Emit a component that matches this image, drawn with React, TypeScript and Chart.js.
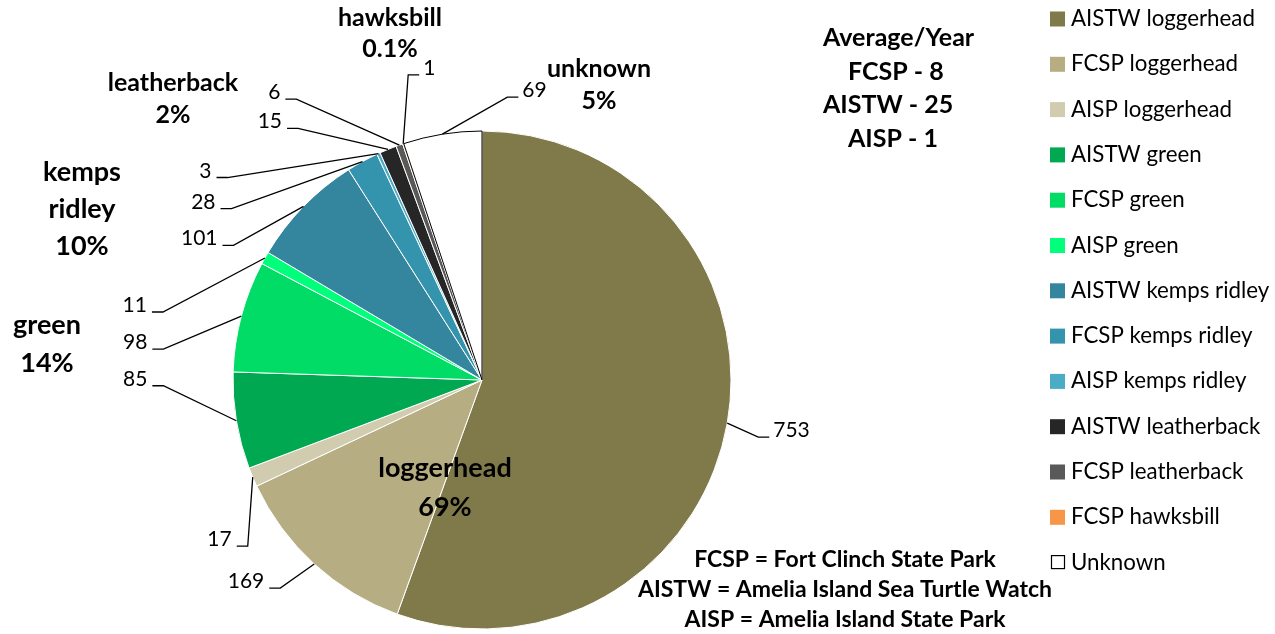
import React, { useEffect, useRef } from "react";
import { Chart, registerables } from "chart.js";

Chart.register(...registerables);

// ---- data ----
const categories = [
  "AISTW loggerhead",
  "FCSP loggerhead",
  "AISP loggerhead",
  "AISTW green",
  "FCSP green",
  "AISP green",
  "AISTW kemps ridley",
  "FCSP kemps ridley",
  "AISP kemps ridley",
  "AISTW leatherback",
  "FCSP leatherback",
  "FCSP hawksbill",
  "Unknown",
];
const counts = [753, 169, 17, 85, 98, 11, 101, 28, 3, 15, 6, 1, 69];

const speciesNames = ["hawksbill", "leatherback", "kemps\nridley", "green", "loggerhead", "unknown"];
const speciesPercents = ["0.1%", "2%", "10%", "14%", "69%", "5%"];

const averageTitle = "Average/Year";
const averageLines = ["FCSP - 8", "AISTW - 25", "AISP - 1"];
const abbreviations = [
  "FCSP = Fort Clinch State Park",
  "AISTW = Amelia Island Sea Turtle Watch",
  "AISP = Amelia Island State Park",
];

// ---- styles ----
const sliceColors = [
  "#807A4B",
  "#B6AE82",
  "#D1CCAF",
  "#00A851",
  "#00DC66",
  "#00FF7A",
  "#33869E",
  "#3494AE",
  "#4BACC6",
  "#262626",
  "#595959",
  "#F79646",
  "#FFFFFF",
];
const sliceBorders = [
  "#FFFFFF", "#FFFFFF", "#FFFFFF", "#FFFFFF", "#FFFFFF", "#FFFFFF", "#FFFFFF",
  "#FFFFFF", "#FFFFFF", "#FFFFFF", "#FFFFFF", "#FFFFFF", "#000000",
];

const FONT = "Lato, 'Open Sans', sans-serif";

// leader-line layout: offset from slice edge to elbow, and side of label
const leaderLayout: { dx: number; dy: number; side: "L" | "R" }[] = [
  { dx: 31, dy: 14, side: "R" },
  { dx: -34, dy: 24, side: "L" },
  { dx: -5, dy: 69, side: "L" },
  { dx: -73, dy: -35, side: "L" },
  { dx: -78, dy: 33, side: "L" },
  { dx: -102, dy: 54, side: "L" },
  { dx: -70, dy: 39, side: "L" },
  { dx: -131, dy: 47, side: "L" },
  { dx: -151, dy: 24, side: "L" },
  { dx: -90, dy: -21, side: "L" },
  { dx: -103, dy: -46, side: "L" },
  { dx: 5, dy: -69, side: "R" },
  { dx: 65, dy: -37, side: "R" },
];

// species label placement (center x, baselines, font size)
const speciesLayout = [
  { x: 390, y: [26, 57], size: 25 },
  { x: 173, y: [91, 123], size: 25 },
  { x: 82, y: [181, 218, 255], size: 27 },
  { x: 47, y: [334, 372], size: 27 },
  { x: 445, y: [477, 516], size: 27 },
  { x: 599, y: [77, 109], size: 25 },
];

const overlayPlugin = {
  id: "overlay",
  afterDraw(chart: any) {
    const ctx: CanvasRenderingContext2D = chart.ctx;
    const meta = chart.getDatasetMeta(0);
    ctx.save();

    // data labels with leader lines
    ctx.font = `21px ${FONT}`;
    ctx.fillStyle = "#000";
    ctx.strokeStyle = "#000";
    ctx.lineWidth = 1.3;
    meta.data.forEach((arc: any, i: number) => {
      const p = arc.getProps(["x", "y", "startAngle", "endAngle", "outerRadius"], true);
      const mid = (p.startAngle + p.endAngle) / 2;
      const ax = p.x + Math.cos(mid) * p.outerRadius;
      const ay = p.y + Math.sin(mid) * p.outerRadius;
      const L = leaderLayout[i];
      const ex = ax + L.dx;
      const ey = ay + L.dy;
      const hx = L.side === "L" ? ex - 11 : ex + 11;
      ctx.beginPath();
      ctx.moveTo(ax, ay);
      ctx.lineTo(ex, ey);
      ctx.lineTo(hx, ey);
      ctx.stroke();
      ctx.textBaseline = "alphabetic";
      ctx.textAlign = L.side === "L" ? "right" : "left";
      const tx = L.side === "L" ? hx - 5 : hx + 4;
      ctx.fillText(String(chart.data.datasets[0].data[i]), tx, ey);
    });

    // species labels
    ctx.textAlign = "center";
    speciesNames.forEach((name, i) => {
      const lines = [...name.split("\n"), speciesPercents[i]];
      const lay = speciesLayout[i];
      ctx.font = `bold ${lay.size}px ${FONT}`;
      lines.forEach((ln, j) => ctx.fillText(ln, lay.x, lay.y[j]));
    });

    // average per year block
    ctx.font = `bold 25px ${FONT}`;
    ctx.textAlign = "left";
    ctx.fillText(averageTitle, 823, 46);
    const avgX = [848, 823, 848];
    const avgY = [80, 113, 147];
    averageLines.forEach((t, i) => ctx.fillText(t, avgX[i], avgY[i]));

    // abbreviations
    ctx.font = `bold 23px ${FONT}`;
    ctx.textAlign = "center";
    const abY = [567, 597, 627];
    abbreviations.forEach((t, i) => ctx.fillText(t, 845, abY[i]));

    // legend
    ctx.font = `22.3px ${FONT}`;
    ctx.textAlign = "left";
    const ds = chart.data.datasets[0];
    chart.data.labels.forEach((lab: string, i: number) => {
      const cy = 18.5 + i * 45.3;
      if (i === categories.length - 1) {
        ctx.fillStyle = "#FFFFFF";
        ctx.fillRect(1051, cy - 7, 14, 14);
        ctx.strokeStyle = "#000";
        ctx.lineWidth = 1.2;
        ctx.strokeRect(1051.5, cy - 6.5, 13, 13);
      } else {
        ctx.fillStyle = ds.backgroundColor[i];
        ctx.fillRect(1050, cy - 7, 15, 15);
      }
      ctx.fillStyle = "#000";
      ctx.fillText(lab, 1071, cy + 7.5);
    });

    ctx.restore();
  },
};

export default function App() {
  const ref = useRef<HTMLCanvasElement | null>(null);
  useEffect(() => {
    if (!ref.current) return;
    const chart = new Chart(ref.current, {
      type: "pie",
      data: {
        labels: categories,
        datasets: [
          {
            data: counts,
            backgroundColor: sliceColors,
            borderColor: sliceBorders,
            borderWidth: 1,
          },
        ],
      },
      options: {
        responsive: false,
        animation: false,
        radius: 249,
        layout: { padding: { left: 233, top: 131, right: 544, bottom: 5 } },
        plugins: { legend: { display: false }, tooltip: { enabled: false } },
      } as any,
      plugins: [overlayPlugin],
    });
    return () => chart.destroy();
  }, []);
  return (
    <div style={{ position: "fixed", left: 0, top: 0, width: 1275, height: 634, background: "#fff" }}>
      <canvas ref={ref} width={1275} height={634} style={{ width: 1275, height: 634 }} />
    </div>
  );
}
